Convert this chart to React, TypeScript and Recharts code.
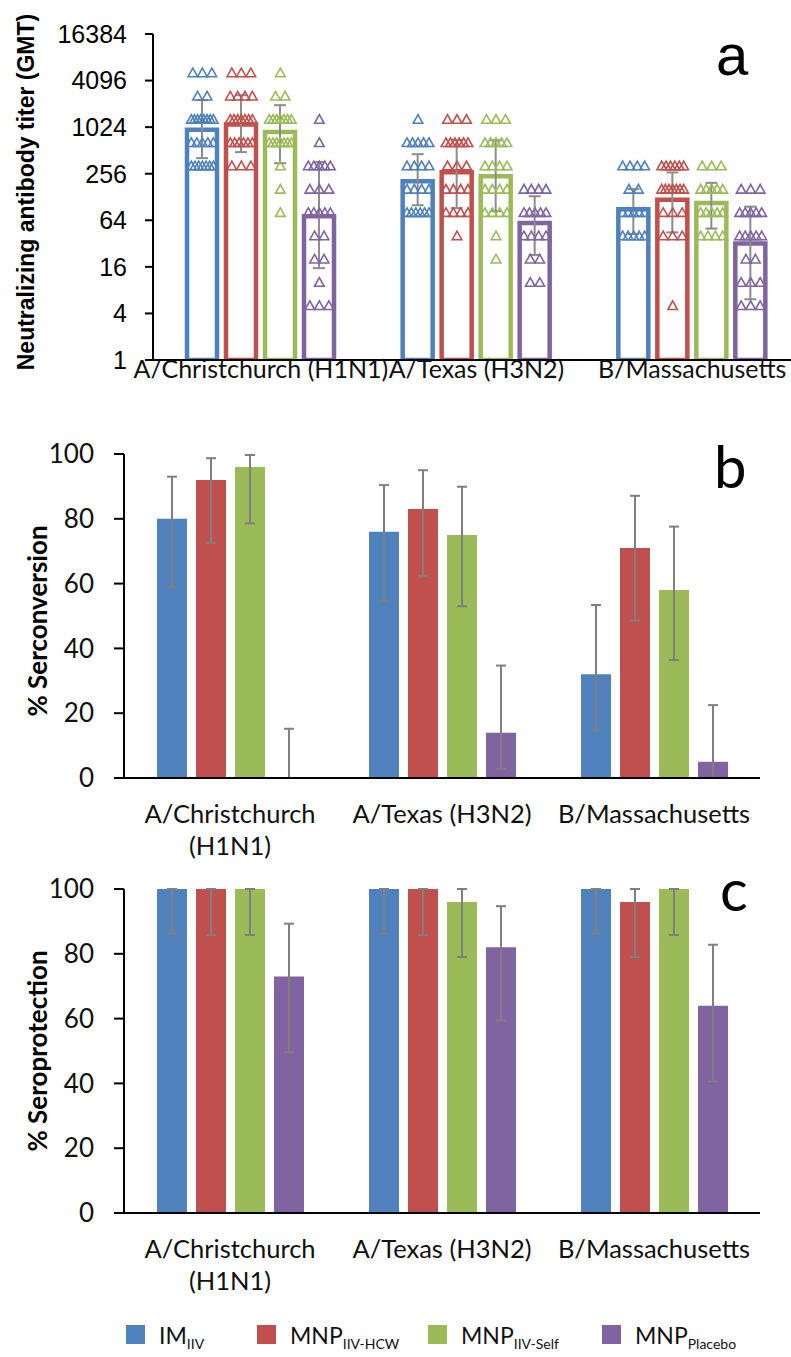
import { ComposedChart, BarChart, Bar, Scatter, XAxis, YAxis, ErrorBar } from "recharts";

const strains = ["A/Christchurch (H1N1)", "A/Texas (H3N2)", "B/Massachusetts"];
const groupKeys = ["im", "hcw", "self", "placebo"];
const groupColors = ["#4F81BD", "#C0504D", "#9BBB59", "#8064A2"];
const legendMain = ["IM", "MNP", "MNP", "MNP"];
const legendSub = ["IIV", "IIV-HCW", "IIV-Self", "Placebo"];

// (a) neutralizing antibody GMT with 95% CI, per strain
const gmtIM = [950, 205, 89];
const gmtHCW = [1110, 268, 118];
const gmtSelf = [884, 238, 107];
const gmtPlacebo = [72, 59, 32];
const gmtLoIM = [407, 100, 42.5];
const gmtHiIM = [2290, 458, 162];
const gmtLoHCW = [487, 92, 44.6];
const gmtHiHCW = [2650, 695, 266];
const gmtLoSelf = [350, 84, 50];
const gmtHiSelf = [1970, 695, 195];
const gmtLoPlacebo = [15.4, 22.8, 6.1];
const gmtHiPlacebo = [362, 131, 96];
const titerTicks = [1, 4, 16, 64, 256, 1024, 4096, 16384];

// individual titers: [titer, number of subjects] per strain
const subjIM = [
  [[5120, 3], [2560, 2], [1280, 8], [640, 5], [320, 7]],
  [[1280, 1], [640, 5], [320, 4], [160, 4], [80, 6]],
  [[320, 4], [160, 2], [80, 5], [40, 5]],
];
const subjHCW = [
  [[5120, 3], [2560, 4], [1280, 7], [640, 6], [320, 3]],
  [[1280, 3], [640, 6], [320, 3], [160, 4], [80, 4], [40, 1]],
  [[320, 6], [160, 7], [80, 3], [40, 3], [5, 1]],
];
const subjSelf = [
  [[5120, 1], [2560, 2], [1280, 7], [640, 7], [320, 1], [160, 1], [80, 1]],
  [[1280, 3], [640, 5], [320, 4], [160, 4], [80, 4], [40, 1], [20, 1]],
  [[320, 3], [160, 5], [80, 5], [40, 4]],
];
const subjPlacebo = [
  [[1280, 1], [640, 1], [320, 5], [160, 3], [80, 5], [40, 2], [20, 2], [10, 1], [5, 3]],
  [[160, 4], [80, 5], [40, 4], [20, 2], [10, 2]],
  [[160, 3], [80, 5], [40, 5], [20, 2], [10, 3], [5, 3]],
];

// (b) % seroconversion (placebo H1N1 is 0; 0.01 keeps its CI whisker drawn)
const scIM = [80, 76, 32];
const scHCW = [92, 83, 71];
const scSelf = [96, 75, 58];
const scPlacebo = [0.01, 14, 5];
const scLoIM = [59, 54.6, 14.8];
const scHiIM = [93, 90.4, 53.4];
const scLoHCW = [72.6, 62.3, 48.6];
const scHiHCW = [98.7, 95, 87.1];
const scLoSelf = [78.6, 53, 36.4];
const scHiSelf = [99.7, 89.9, 77.6];
const scLoPlacebo = [0, 2.8, 0];
const scHiPlacebo = [15.2, 34.7, 22.5];

// (c) % seroprotection
const spIM = [100, 100, 100];
const spHCW = [100, 100, 96];
const spSelf = [100, 96, 100];
const spPlacebo = [73, 82, 64];
const spLoIM = [86.2, 86.2, 86.2];
const spHiIM = [100, 100, 100];
const spLoHCW = [85.8, 85.8, 79];
const spHiHCW = [100, 100, 100];
const spLoSelf = [85.8, 79, 85.8];
const spHiSelf = [100, 100, 100];
const spLoPlacebo = [49.6, 59.4, 40.6];
const spHiPlacebo = [89.3, 94.7, 82.8];
const pctTicks = [0, 20, 40, 60, 80, 100];

const BAR_SIZE = 30;
const BAR_GAP = 9;
const A_WIDTH = 800;
const A_YAXIS = 153;
const A_BAND = (A_WIDTH - A_YAXIS) / strains.length;

function buildRows(vals: number[][], lo: number[][], hi: number[][]) {
  return strains.map((strain, i) => {
    const row: any = { strain };
    groupKeys.forEach((k, g) => {
      row[k] = vals[g][i];
      row[k + "Err"] = [Math.max(0, vals[g][i] - lo[g][i]), hi[g][i] - vals[g][i]];
    });
    return row;
  });
}

// spread the subjects of one titer row across the bar, through the hidden numeric x axis
function buildPoints(subj: number[][][], g: number) {
  const pts: { x: number; v: number }[] = [];
  subj.forEach((rows, i) => {
    rows.forEach(([titer, n]) => {
      const step = n > 1 ? Math.min(9.5, 22 / (n - 1)) : 0;
      for (let k = 0; k < n; k++) {
        const offPx = (g - 1.5) * (BAR_SIZE + BAR_GAP) + (k - (n - 1) / 2) * step;
        pts.push({ x: i + 0.5 + offPx / A_BAND, v: titer });
      }
    });
  });
  return pts;
}

const rowsA = buildRows(
  [gmtIM, gmtHCW, gmtSelf, gmtPlacebo],
  [gmtLoIM, gmtLoHCW, gmtLoSelf, gmtLoPlacebo],
  [gmtHiIM, gmtHiHCW, gmtHiSelf, gmtHiPlacebo]
);
const rowsB = buildRows(
  [scIM, scHCW, scSelf, scPlacebo],
  [scLoIM, scLoHCW, scLoSelf, scLoPlacebo],
  [scHiIM, scHiHCW, scHiSelf, scHiPlacebo]
);
const rowsC = buildRows(
  [spIM, spHCW, spSelf, spPlacebo],
  [spLoIM, spLoHCW, spLoSelf, spLoPlacebo],
  [spHiIM, spHiHCW, spHiSelf, spHiPlacebo]
);
const pointsA = [subjIM, subjHCW, subjSelf, subjPlacebo].map((s, g) => buildPoints(s, g));

const FONT = "Lato, 'Open Sans', sans-serif";
const ARIAL = "'Liberation Sans', Arial, sans-serif";

function StrainTick(props: any) {
  const { x, y, payload, fontSize, dy, wrap } = props;
  const label: string = payload.value;
  let lines = [label];
  if (wrap && label.length > 16) {
    const cut = label.lastIndexOf(" ");
    lines = [label.slice(0, cut), label.slice(cut + 1)];
  }
  return (
    <text x={x} y={y + dy} textAnchor="middle" fontFamily={FONT} fontSize={fontSize} fill="#111">
      {lines.map((l, i) => (
        <tspan key={i} x={x} dy={i === 0 ? 0 : fontSize * 1.25}>
          {l}
        </tspan>
      ))}
    </text>
  );
}

function Triangle(props: any) {
  const { cx, cy, color } = props;
  if (cx == null || cy == null) return null;
  return (
    <polygon
      points={`${cx},${cy - 5} ${cx - 4.8},${cy + 3.6} ${cx + 4.8},${cy + 3.6}`}
      fill="none"
      stroke={color}
      strokeWidth={1.6}
    />
  );
}

function PercentPanel({ rows, top }: { rows: any[]; top: number }) {
  return (
    <div style={{ position: "absolute", left: 0, top }}>
      <BarChart
        width={791}
        height={440}
        data={rows}
        margin={{ top: 24, right: 31, bottom: 0, left: 0 }}
        barSize={BAR_SIZE}
        barGap={BAR_GAP}
      >
        <XAxis
          dataKey="strain"
          interval={0}
          height={92}
          tickLine={false}
          tickSize={0}
          tickMargin={0}
          axisLine={{ stroke: "#000", strokeWidth: 2 }}
          tick={(p: any) => <StrainTick {...p} fontSize={25.5} dy={45} wrap />}
        />
        <YAxis
          width={124}
          domain={[0, 100]}
          ticks={pctTicks}
          tickSize={10}
          tickMargin={20}
          axisLine={{ stroke: "#000", strokeWidth: 2 }}
          tickLine={{ stroke: "#000", strokeWidth: 2 }}
          tick={{ fontSize: 26, fill: "#111", fontFamily: FONT }}
        />
        {groupKeys.map((k, g) => (
          <Bar key={k} dataKey={k} fill={groupColors[g]} isAnimationActive={false}>
            <ErrorBar dataKey={k + "Err"} width={5} stroke="#7f7f7f" strokeWidth={2} />
          </Bar>
        ))}
      </BarChart>
    </div>
  );
}

export default function App() {
  return (
    <div
      style={{
        position: "absolute",
        left: 0,
        top: 0,
        width: 791,
        height: 1357,
        overflow: "hidden",
        background: "#fff",
      }}
    >
      {/* (a) titers, log2 axis */}
      <div style={{ position: "absolute", left: 0, top: 0 }}>
        <ComposedChart
          width={A_WIDTH}
          height={400}
          data={rowsA}
          margin={{ top: 34, right: 0, bottom: 0, left: 0 }}
          barSize={BAR_SIZE}
          barGap={BAR_GAP}
        >
          <XAxis
            xAxisId="cat"
            dataKey="strain"
            interval={0}
            height={40}
            tickLine={false}
            tickSize={0}
            tickMargin={0}
            axisLine={{ stroke: "#000", strokeWidth: 2 }}
            tick={(p: any) => <StrainTick {...p} fontSize={25} dy={18} />}
          />
          <XAxis xAxisId="pt" dataKey="x" type="number" domain={[0, 3]} hide allowDataOverflow />
          <YAxis
            width={A_YAXIS}
            scale="log"
            type="number"
            domain={[1, 16384]}
            ticks={titerTicks}
            allowDataOverflow
            tickSize={8}
            tickMargin={18}
            axisLine={{ stroke: "#000", strokeWidth: 2 }}
            tickLine={{ stroke: "#000", strokeWidth: 2 }}
            tick={{ fontSize: 25, fill: "#000", fontFamily: ARIAL }}
          />
          {groupKeys.map((k, g) => (
            <Bar
              key={k}
              xAxisId="cat"
              dataKey={k}
              fill="#fff"
              stroke={groupColors[g]}
              strokeWidth={4.5}
              isAnimationActive={false}
            >
              <ErrorBar dataKey={k + "Err"} width={6} stroke="#8c8c8c" strokeWidth={2} />
            </Bar>
          ))}
          {groupKeys.map((k, g) => (
            <Scatter
              key={"pts-" + k}
              xAxisId="pt"
              data={pointsA[g]}
              dataKey="v"
              isAnimationActive={false}
              shape={(p: any) => <Triangle {...p} color={groupColors[g]} />}
            />
          ))}
        </ComposedChart>
      </div>

      <PercentPanel rows={rowsB} top={430} />
      <PercentPanel rows={rowsC} top={865} />

      {/* titles, panel letters and legend */}
      <svg
        width={791}
        height={1357}
        style={{ position: "absolute", left: 0, top: 0, pointerEvents: "none" }}
      >
        <text
          transform="translate(26,192) rotate(-90)"
          textAnchor="middle"
          dominantBaseline="central"
          fontFamily={ARIAL}
          fontWeight={700}
          fontSize={23}
          fill="#000"
        >
          Neutralizing antibody titer (GMT)
        </text>
        <text
          transform="translate(37,621) rotate(-90)"
          textAnchor="middle"
          dominantBaseline="central"
          fontFamily={FONT}
          fontWeight={700}
          fontSize={26}
          fill="#000"
        >
          % Serconversion
        </text>
        <text
          transform="translate(37,1051) rotate(-90)"
          textAnchor="middle"
          dominantBaseline="central"
          fontFamily={FONT}
          fontWeight={700}
          fontSize={26}
          fill="#000"
        >
          % Seroprotection
        </text>
        <text x={716} y={75} fontFamily={ARIAL} fontSize={58} fill="#000">a</text>
        <text x={714} y={488} fontFamily={FONT} fontSize={58} fill="#000">b</text>
        <text x={720} y={911} fontFamily={FONT} fontSize={58} fill="#000">c</text>
        {[126, 257, 428, 602].map((lx, g) => (
          <g key={g}>
            <rect x={lx} y={1325} width={19} height={19} fill={groupColors[g]} />
            <text x={lx + 33} y={1344} fontFamily={FONT} fontSize={23} fill="#111">
              {legendMain[g]}
              <tspan fontSize={14} dy={5}>
                {legendSub[g]}
              </tspan>
            </text>
          </g>
        ))}
      </svg>
    </div>
  );
}
